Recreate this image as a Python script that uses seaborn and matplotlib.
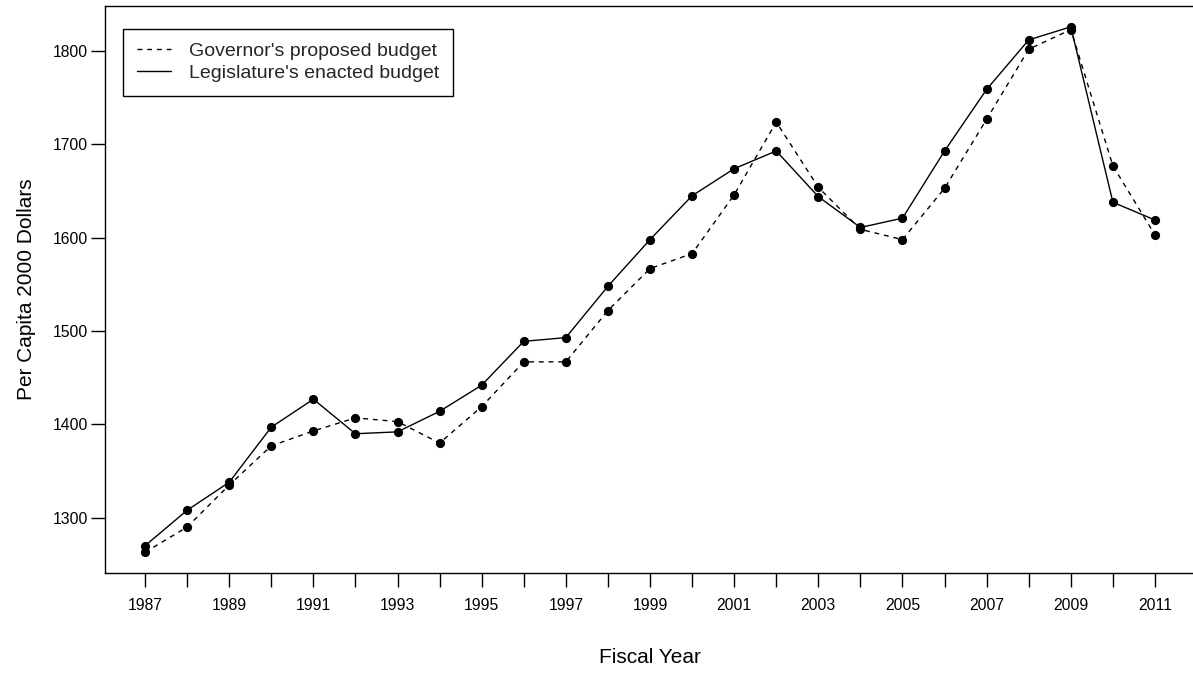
import numpy as np
import pandas as pd
import matplotlib
matplotlib.use('Agg')
import matplotlib.pyplot as plt
import seaborn as sns

# data
years = list(range(1987, 2012))
governor = [1263, 1290, 1335, 1377, 1393, 1407, 1403, 1380, 1419, 1467, 1467, 1522, 1567,
            1583, 1646, 1724, 1654, 1609, 1598, 1653, 1727, 1802, 1823, 1677, 1603]
legislature = [1270, 1308, 1338, 1397, 1427, 1390, 1392, 1414, 1442, 1489, 1493, 1548, 1598,
               1645, 1674, 1693, 1644, 1611, 1621, 1693, 1759, 1812, 1826, 1638, 1619]
y_ticks = [1300, 1400, 1500, 1600, 1700, 1800]

gov_lab = "Governor's proposed budget"
leg_lab = "Legislature's enacted budget"

df = pd.DataFrame({
    'year': years * 2,
    'value': governor + legislature,
    'budget': [gov_lab] * len(years) + [leg_lab] * len(years),
})

sns.set_theme(style='ticks')
plt.rcParams['font.family'] = ['Liberation Sans', 'DejaVu Sans']

fig = plt.figure(figsize=(11.93, 6.75), dpi=100)
ax = fig.add_axes([0.0877, 0.1507, 0.9143, 0.8407])

sns.lineplot(data=df, x='year', y='value', style='budget', style_order=[gov_lab, leg_lab],
             dashes={gov_lab: (3.5, 3.5), leg_lab: ''}, color='black', linewidth=1.0, ax=ax)
sns.scatterplot(data=df, x='year', y='value', color='black', s=44, linewidth=0,
                legend=False, ax=ax, zorder=3)

# R-style 4% padding on both axes
vals = governor + legislature
xr = max(years) - min(years)
yr = max(vals) - min(vals)
ax.set_xlim(min(years) - 0.04 * xr, max(years) + 0.04 * xr)
ax.set_ylim(min(vals) - 0.04 * yr, max(vals) + 0.04 * yr)

ax.set_xticks(years)
ax.set_xticklabels([str(y) if y % 2 else '' for y in years])
ax.set_yticks(y_ticks)
ax.tick_params(axis='both', direction='out', length=10, width=1.0, color='black',
               labelsize=11.3, labelcolor='black')
ax.tick_params(axis='x', pad=8)
ax.tick_params(axis='y', pad=2)

for s in ax.spines.values():
    s.set_visible(True)
    s.set_color('black')
    s.set_linewidth(1.0)

ax.set_xlabel('Fiscal Year', fontsize=15, color='black')
ax.set_ylabel('Per Capita 2000 Dollars', fontsize=15, color='black')
ax.xaxis.set_label_coords(0.5, -0.1316)
ax.yaxis.set_label_coords(-0.063, 0.5)

handles, labels = ax.get_legend_handles_labels()
keep = [(h, l) for h, l in zip(handles, labels) if l in (gov_lab, leg_lab)]
leg = ax.legend([h for h, _ in keep], [l for _, l in keep], loc='upper left',
                bbox_to_anchor=(0.0171, 0.9597), borderaxespad=0, frameon=True,
                fancybox=False, edgecolor='black', framealpha=1, fontsize=14,
                handlelength=1.75, handletextpad=0.9, labelspacing=0.19, borderpad=0.72)
leg.get_frame().set_linewidth(1.0)
for h in leg.legend_handles:
    h.set_color('black')

fig.savefig('out.png', dpi=100)
